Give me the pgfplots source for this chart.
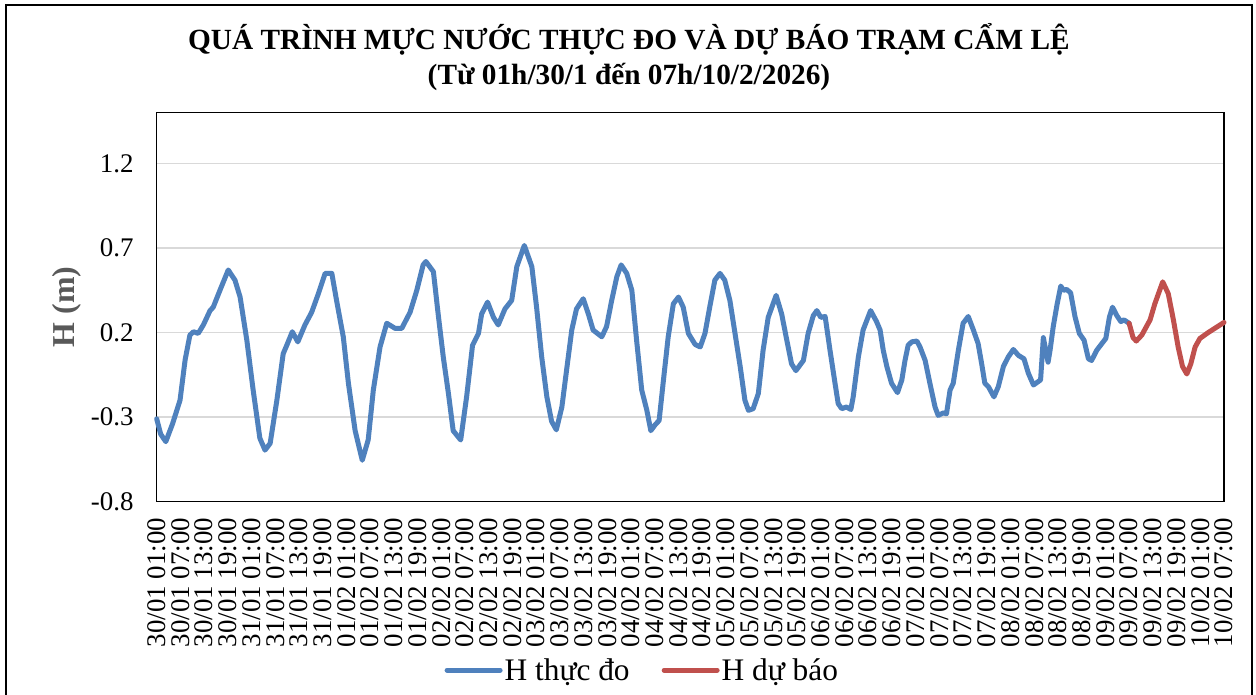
\documentclass[border=0pt]{standalone}
\usepackage{fontspec}
\setmainfont{Liberation Serif}
\usepackage{pgfplots}
\pgfplotsset{compat=1.18}
\definecolor{obsblue}{HTML}{4F81BD}
\definecolor{fcred}{HTML}{C0504D}
\definecolor{gridgray}{HTML}{D9D9D9}
\definecolor{labgray}{HTML}{595959}
\begin{document}
\begin{tikzpicture}
\useasboundingbox (0bp,0bp) rectangle (1256bp,695bp);
\fill[white] (0bp,0bp) rectangle (1256bp,695bp);
\draw[line width=2bp] (6bp,-10bp) -- (6bp,690bp) -- (1252bp,690bp) -- (1252bp,-10bp);
\begin{axis}[
  at={(156.7bp,193.3bp)}, anchor=south west,
  scale only axis, width=1067.3bp, height=389bp,
  xmin=0, xmax=270, ymin=-0.8, ymax=1.5,
  clip=false,
  axis line style={line width=1.5bp, black},
  major tick length=0pt,
  ytick={-0.8,-0.3,0.2,0.7,1.2},
  yticklabels={-0.8,-0.3,0.2,0.7,1.2},
  ymajorgrids, grid style={gridgray, line width=1.5bp},
  xtick={0,6,...,270},
  xticklabels={30/01 01:00,30/01 07:00,30/01 13:00,30/01 19:00,
    31/01 01:00,31/01 07:00,31/01 13:00,31/01 19:00,
    01/02 01:00,01/02 07:00,01/02 13:00,01/02 19:00,
    02/02 01:00,02/02 07:00,02/02 13:00,02/02 19:00,
    03/02 01:00,03/02 07:00,03/02 13:00,03/02 19:00,
    04/02 01:00,04/02 07:00,04/02 13:00,04/02 19:00,
    05/02 01:00,05/02 07:00,05/02 13:00,05/02 19:00,
    06/02 01:00,06/02 07:00,06/02 13:00,06/02 19:00,
    07/02 01:00,07/02 07:00,07/02 13:00,07/02 19:00,
    08/02 01:00,08/02 07:00,08/02 13:00,08/02 19:00,
    09/02 01:00,09/02 07:00,09/02 13:00,09/02 19:00,
    10/02 01:00,10/02 07:00},
  xticklabel style={rotate=90, anchor=east, inner sep=0pt, xshift=-16bp, font=\fontsize{27}{27}\selectfont},
  yticklabel style={anchor=east, inner sep=0pt, xshift=-23bp, font=\fontsize{27}{27}\selectfont},
  ylabel={H (m)},
  every axis y label/.style={at={(axis description cs:-0.084,0.501)}, rotate=90, anchor=center, font=\bfseries\fontsize{32}{32}\selectfont, text=labgray},
  title={QUÁ TRÌNH MỰC NƯỚC THỰC ĐO VÀ DỰ BÁO TRẠM CẨM LỆ\\(Từ 01h/30/1 đến 07h/10/2/2026)},
  title style={at={(axis description cs:0.4425,1.128)}, anchor=center, align=center, font=\bfseries\fontsize{29.4}{35}\selectfont},
  legend columns=2,
  legend style={at={(axis description cs:0.455,-0.433)}, anchor=center, draw=none, fill=none,
    font=\fontsize{31.5}{31.5}\selectfont, inner sep=0pt,
    nodes={inner sep=2bp},
    /tikz/every even column/.append style={column sep=30bp}},
  legend image code/.code={\draw[#1, line width=5bp, line cap=round] (0bp,0bp) -- (53bp,0bp);},
]
\addplot[obsblue, line width=5bp, line join=round, line cap=round] coordinates {
(0,-0.31) (1,-0.40) (2.3,-0.445) (4,-0.34) (5.9,-0.20) (7.2,0.04) (8.4,0.185) (9.3,0.205)
(10.5,0.195) (11.8,0.245) (13.5,0.33) (14.3,0.35) (16,0.45) (18.1,0.57) (19.8,0.51)
(21.1,0.41) (22.8,0.155) (24.4,-0.14) (26.1,-0.425) (27.4,-0.495) (28.7,-0.455)
(30.4,-0.20) (32,0.075) (33,0.13) (34.3,0.205) (35.7,0.145) (37.5,0.245) (39.2,0.32)
(40.9,0.43) (42.6,0.55) (44.3,0.55) (45.5,0.39) (47.2,0.175) (48.5,-0.10) (50.2,-0.38)
(52,-0.555) (53.5,-0.435) (54.8,-0.14) (56.5,0.115) (58.2,0.255) (60.3,0.225) (62,0.225)
(64.1,0.32) (65.8,0.45) (67.4,0.60) (68.1,0.62) (70,0.56) (71.2,0.31) (72.5,0.055)
(73.8,-0.16) (75,-0.38) (76.9,-0.435) (78.4,-0.18) (79.9,0.125) (81.4,0.195) (82.2,0.31)
(83.7,0.38) (85.2,0.29) (86.4,0.245) (88.1,0.34) (89.8,0.39) (91.1,0.59) (93,0.715)
(94.9,0.59) (96.1,0.35) (97.4,0.055) (98.7,-0.18) (99.9,-0.325) (101.1,-0.375)
(102.5,-0.24) (103.7,-0.02) (105,0.215) (106.2,0.34) (107.9,0.40) (109.2,0.31)
(110.4,0.215) (112.6,0.175) (113.8,0.235) (115.1,0.39) (116.4,0.53) (117.5,0.60)
(118.9,0.55) (120.2,0.45) (121.4,0.155) (122.7,-0.14) (124,-0.26) (125,-0.38)
(126.1,-0.345) (127.1,-0.32) (128.2,-0.08) (129.4,0.175) (130.7,0.37) (132,0.41)
(133.2,0.35) (134.5,0.195) (136.2,0.13) (137.5,0.115) (138.7,0.195) (139.9,0.35)
(141.2,0.51) (142.5,0.55) (143.7,0.51) (145,0.39) (146.3,0.195) (147.6,0.0) (148.8,-0.20)
(149.7,-0.26) (150.9,-0.25) (152.2,-0.16) (153.4,0.095) (154.7,0.29) (156.7,0.42)
(158.1,0.31) (159.4,0.155) (160.6,0.015) (161.7,-0.025) (163.6,0.035) (164.8,0.195)
(166.1,0.30) (167,0.33) (168,0.29) (169.1,0.295) (170.3,0.10) (171.6,-0.10) (172.4,-0.22)
(173.3,-0.25) (174.5,-0.24) (175.6,-0.255) (176.2,-0.18) (177.5,0.055) (178.7,0.215)
(180.6,0.33) (182.1,0.265) (183,0.215) (183.8,0.095) (184.7,0.0) (185.9,-0.10)
(187.4,-0.155) (188.5,-0.08) (189.3,0.035) (190.1,0.125) (191,0.145) (192.3,0.15)
(193.1,0.115) (194.4,0.035) (195.6,-0.10) (196.9,-0.24) (197.7,-0.29) (199,-0.275)
(199.8,-0.28) (200.7,-0.14) (201.5,-0.10) (202.8,0.095) (204,0.255) (205.3,0.295)
(206.6,0.215) (207.8,0.135) (208.7,0.015) (209.5,-0.10) (210.4,-0.12) (211.8,-0.18)
(212.9,-0.12) (214.2,0.0) (215.4,0.055) (216.7,0.10) (218,0.065) (219.4,0.045)
(220.5,-0.04) (221.8,-0.11) (223,-0.09) (223.6,-0.08) (224.3,0.17) (225.5,0.025)
(226,0.095) (226.8,0.235) (227.8,0.37) (228.7,0.475) (229.4,0.45) (230.2,0.455)
(231.2,0.435) (232.3,0.295) (233.4,0.195) (234.6,0.155) (235.7,0.045) (236.5,0.035)
(237.8,0.095) (239.1,0.135) (240.1,0.165) (241,0.29) (241.8,0.35) (242.9,0.30)
(243.9,0.265) (244.7,0.275) (246,0.255)
};
\addlegendentry{H thực đo}
\addplot[fcred, line width=5bp, line join=round, line cap=round] coordinates {
(246,0.255) (247,0.17) (247.8,0.15) (249.2,0.185) (251.3,0.275) (252.5,0.37) (254.5,0.50)
(255.9,0.43) (257.2,0.275) (258.4,0.115) (259.5,0.0) (260.6,-0.045) (261.6,0.015)
(262.7,0.115) (263.9,0.165) (266,0.20) (268,0.23) (270,0.26)
};
\addlegendentry{H dự báo}
\end{axis}
\end{tikzpicture}
\end{document}
